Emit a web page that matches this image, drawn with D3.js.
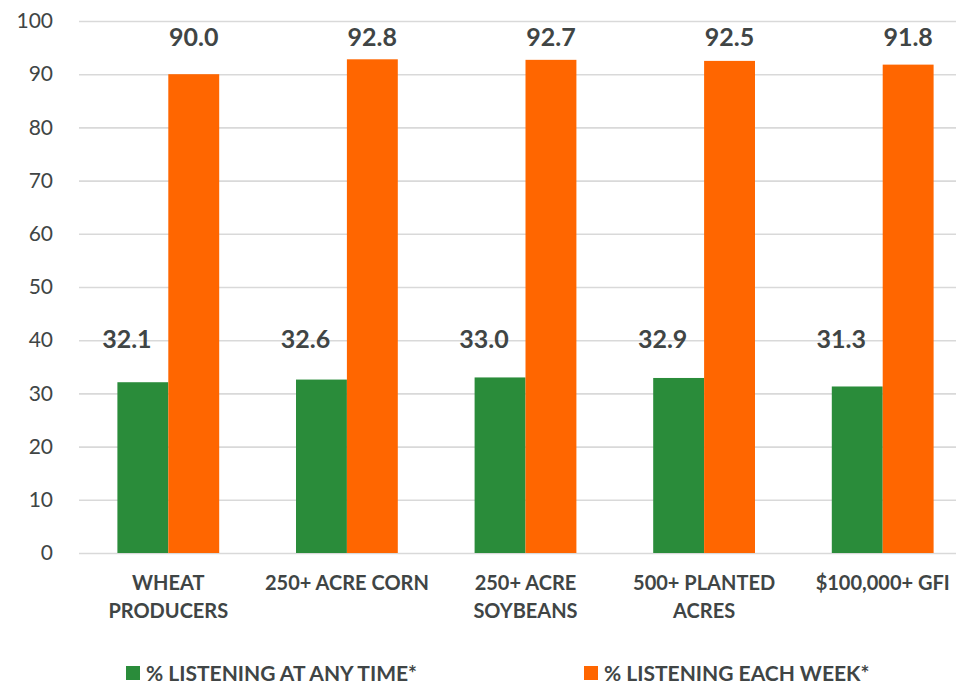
<!DOCTYPE html>
<html>
<head>
<meta charset="utf-8">
<script src="https://cdn.jsdelivr.net/npm/d3@7"></script>
<style>
  html, body { margin: 0; padding: 0; background: #fff; overflow: hidden; }
  svg { display: block; font-family: Lato, "Open Sans", sans-serif; }
</style>
</head>
<body>
<svg id="chart" width="956" height="684"></svg>
<script>
// Categories (each may wrap onto two lines)
const categories = ["WHEAT PRODUCERS", "250+ ACRE CORN", "250+ ACRE SOYBEANS", "500+ PLANTED ACRES", "$100,000+ GFI"];
const categoryLines = [["WHEAT", "PRODUCERS"], ["250+ ACRE CORN"], ["250+ ACRE", "SOYBEANS"], ["500+ PLANTED", "ACRES"], ["$100,000+ GFI"]];

const seriesNames = ["% LISTENING AT ANY TIME*", "% LISTENING EACH WEEK*"];
const anyTime = [32.1, 32.6, 33.0, 32.9, 31.3];
const eachWeek = [90.0, 92.8, 92.7, 92.5, 91.8];
const yTicks = [0, 10, 20, 30, 40, 50, 60, 70, 80, 90, 100];

const colors = ["#2a8c3a", "#ff6600"];
const textColor = "#404545";

const svg = d3.select("#chart");
const plot = { left: 79, right: 972, top: 21, bottom: 553 };

const y = d3.scaleLinear().domain([0, 100]).range([plot.bottom, plot.top]);
const x0 = d3.scaleBand().domain(categories).range([plot.left, plot.right])
  .paddingInner(0.43).paddingOuter(0.215);
const x1 = d3.scaleBand().domain(seriesNames).range([0, x0.bandwidth()]);

// Gridlines and value axis
const yAxis = d3.axisLeft(y).tickValues(yTicks).tickSize(-(plot.right - plot.left)).tickPadding(26).tickFormat(d3.format("d"));
const gy = svg.append("g").attr("transform", `translate(${plot.left},0)`).call(yAxis);
gy.select(".domain").remove();
gy.selectAll(".tick line").attr("stroke", "#d9d9d9").attr("stroke-width", 1.6);
gy.selectAll(".tick text").attr("fill", textColor).attr("font-size", 21).attr("font-family", "Lato, sans-serif");

// Bars
const data = categories.map((c, i) => ({ cat: c, values: [anyTime[i], eachWeek[i]] }));
const groups = svg.append("g").selectAll("g").data(data).join("g")
  .attr("transform", d => `translate(${x0(d.cat)},0)`);

groups.selectAll("rect").data(d => d.values.map((v, k) => ({ k, v }))).join("rect")
  .attr("x", d => x1(seriesNames[d.k]))
  .attr("width", x1.bandwidth())
  .attr("y", d => y(d.v))
  .attr("height", d => y(0) - y(d.v))
  .attr("fill", d => colors[d.k]);

// Value labels: weekly figures across the top, any-time figures near the 40 line
groups.append("text")
  .attr("x", x1(seriesNames[1]) + x1.bandwidth() / 2)
  .attr("y", y(95.3))
  .attr("text-anchor", "middle")
  .attr("font-size", 25).attr("font-weight", "bold").attr("fill", textColor)
  .text(d => d.values[1].toFixed(1));

groups.append("text")
  .attr("x", x1(seriesNames[0]) + x1.bandwidth() / 2 - 16)
  .attr("y", y(38.6))
  .attr("text-anchor", "middle")
  .attr("font-size", 25).attr("font-weight", "bold").attr("fill", textColor)
  .text(d => d.values[0].toFixed(1));

// Category labels
const catG = svg.append("g");
categories.forEach((c, i) => {
  const t = catG.append("text")
    .attr("x", x0(c) + x0.bandwidth() / 2)
    .attr("y", 590)
    .attr("text-anchor", "middle")
    .attr("font-size", 20).attr("font-weight", "bold").attr("fill", textColor);
  categoryLines[i].forEach((line, j) => {
    t.append("tspan").attr("x", x0(c) + x0.bandwidth() / 2).attr("dy", j === 0 ? 0 : 28).text(line);
  });
});

// Legend
const legendX = [126, 584];
const legend = svg.append("g");
seriesNames.forEach((name, k) => {
  legend.append("rect").attr("x", legendX[k]).attr("y", 666).attr("width", 14).attr("height", 14).attr("fill", colors[k]);
  legend.append("text").attr("x", legendX[k] + 20).attr("y", 681)
    .attr("font-size", 21).attr("font-weight", "bold").attr("fill", textColor).text(name);
});
</script>
</body>
</html>
